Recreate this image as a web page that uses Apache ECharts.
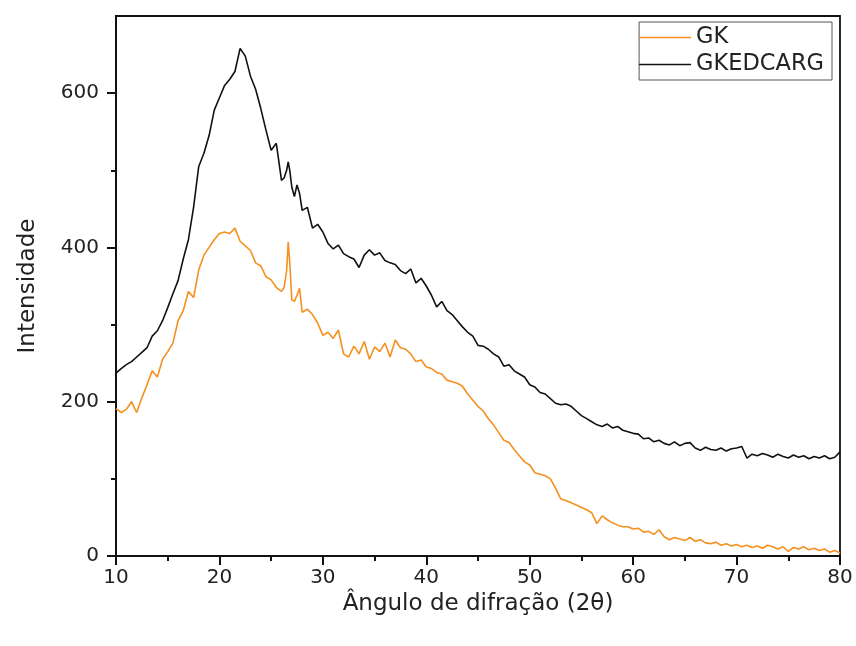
<!DOCTYPE html>
<html>
<head>
<meta charset="utf-8">
<script src="https://cdn.jsdelivr.net/npm/echarts@6/dist/echarts.min.js"></script>
<style>
html,body{margin:0;padding:0;background:#fff;}
#chart{width:856px;height:646px;}
</style>
</head>
<body>
<div id="chart"></div>
<script>
// Diffraction angle (2θ) sample positions
const angles = [10,10.5,11,11.5,12,12.5,13,13.5,14,14.5,15,15.5,16,16.5,17,17.5,18,18.5,19,19.5,20,20.5,21,21.5,22,22.5,23,23.5,24,24.5,25,25.5,26,
  26.25,26.5,26.65,26.8,27,27.25,27.5,27.75,28,
  28.5,29,29.5,30,30.5,31,31.5,32,32.5,33,33.5,34,34.5,35,35.5,36,36.5,37,37.5,38,38.5,39,39.5,40,40.5,41,41.5,42,42.5,43,
  43.5,44,44.5,45,45.5,46,46.5,47,47.5,48,48.5,49,49.5,50,50.5,51,51.5,52,52.5,53,53.5,54,54.5,55,55.5,56,56.5,57,57.5,58,
  58.5,59,59.5,60,60.5,61,61.5,62,62.5,63,63.5,64,64.5,65,65.5,66,66.5,67,67.5,68,68.5,69,69.5,70,70.5,71,71.5,72,72.5,73,
  73.5,74,74.5,75,75.5,76,76.5,77,77.5,78,78.5,79,79.5,80];

const gkValues = [191,186,190,200,186,205,222,240,232,255,265,276,305,318,343,335,371,390,400,410,418,420,418,425,408,402,396,380,376,362,358,348,343,
  348,370,407,380,332,330,338,347,316,
  320,313,302,286,290,282,293,262,258,272,
  262,278,255,271,265,276,258,280,270,268,
  262,252,254,245,243,238,236,228,226,224,
  220,210,202,194,188,178,170,160,150,147,
  138,130,122,118,108,106,104,100,88,74,
  72,69,66,63,60,56,42,52,47,43,
  40,38,38,35,36,31,32,28,34,25,
  21,24,22,20,24,19,21,17,16,18,
  14,16,13,15,12,14,11,13,10,14,
  12,9,12,6,11,9,12,8,10,7,
  9,5,7,4];

const gkedcargValues = [237,243,248,252,258,264,270,285,292,305,322,340,357,385,410,452,505,522,545,578,594,610,618,628,658,648,622,605,580,552,526,535,487,
  490,500,511,500,478,466,481,470,448,
  452,425,430,420,405,398,403,392,388,385,
  374,390,397,390,393,383,380,378,370,366,
  372,354,360,350,338,323,330,318,313,305,
  297,290,285,273,272,268,262,258,246,248,
  240,236,232,222,219,212,210,204,198,196,
  197,194,188,182,178,174,170,168,171,166,
  168,163,161,159,158,152,153,148,150,146,
  144,148,143,146,147,140,137,141,138,137,
  140,136,139,140,142,127,132,130,133,131,
  128,132,129,127,131,128,130,126,129,127,
  130,126,128,135];

const seriesNames = ['GK', 'GKEDCARG'];
const yMajorTicks = [0,200,400,600];
const yMinorTicks = [100,300,500];

const FONT = '"DejaVu Sans", "Liberation Sans", Arial, sans-serif';
const TXT = '#222';

const pair = vals => angles.map((a, i) => [a, vals[i]]);

const chart = echarts.init(document.getElementById('chart'), null, {renderer: 'canvas'});
chart.setOption({
  animation: false,
  backgroundColor: '#fff',
  grid: {left: 116, right: 16, top: 16, bottom: 90, show: true, borderColor: '#111', borderWidth: 1.8, containLabel: false},
  legend: {
    data: seriesNames,
    orient: 'vertical',
    right: 24, top: 22,
    padding: [3, 8, 3, 0],
    itemGap: 2,
    icon: 'rect',
    itemWidth: 52, itemHeight: 1.5,
    borderColor: '#555', borderWidth: 1,
    textStyle: {fontFamily: FONT, fontSize: 22.5, color: TXT, lineHeight: 25}
  },
  xAxis: [{
    type: 'value', min: 10, max: 80, interval: 10,
    name: 'Ângulo de difração (2θ)', nameLocation: 'middle', nameGap: 33,
    nameTextStyle: {fontFamily: FONT, fontSize: 23, color: TXT},
    axisLine: {show: true, onZero: false, lineStyle: {color: '#111', width: 2}},
    axisTick: {show: true, inside: false, length: 9, lineStyle: {color: '#111', width: 2}},
    minorTick: {show: true, splitNumber: 2, length: 5, lineStyle: {color: '#111', width: 2}},
    axisLabel: {fontFamily: FONT, fontSize: 20, color: TXT, margin: 12},
    splitLine: {show: false}
  }],
  yAxis: [{
    type: 'value', min: 0, max: 700,
    name: 'Intensidade', nameLocation: 'middle', nameGap: 76, nameRotate: 90,
    nameTextStyle: {fontFamily: FONT, fontSize: 23, color: TXT},
    axisLine: {show: true, onZero: false, lineStyle: {color: '#111', width: 2}},
    axisTick: {show: true, inside: false, length: 9, customValues: yMajorTicks, lineStyle: {color: '#111', width: 2}},
    axisLabel: {fontFamily: FONT, fontSize: 20, color: TXT, margin: 17, customValues: yMajorTicks},
    splitLine: {show: false}
  }, {
    type: 'value', min: 0, max: 700, position: 'left',
    axisLine: {show: false},
    axisTick: {show: true, inside: false, length: 5, customValues: yMinorTicks, lineStyle: {color: '#111', width: 2}},
    axisLabel: {show: false, customValues: yMinorTicks},
    splitLine: {show: false}
  }],
  series: [{
    name: seriesNames[0], type: 'line', data: pair(gkValues), symbol: 'none',
    lineStyle: {color: '#f5901e', width: 1.6}, itemStyle: {color: '#f5901e'}, z: 3
  }, {
    name: seriesNames[1], type: 'line', data: pair(gkedcargValues), symbol: 'none',
    lineStyle: {color: '#111', width: 1.6}, itemStyle: {color: '#111'}, z: 2
  }]
});
</script>
</body>
</html>
